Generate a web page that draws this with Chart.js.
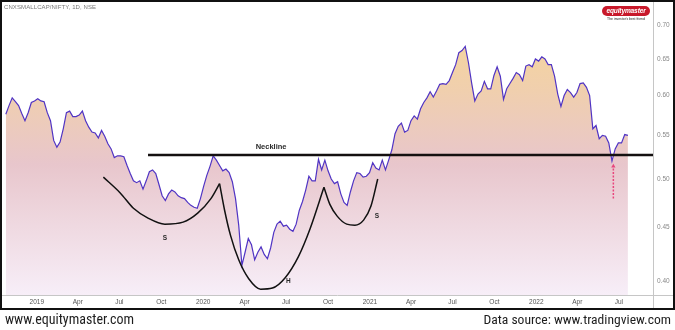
<!DOCTYPE html>
<html>
<head>
<meta charset="utf-8">
<script src="https://cdn.jsdelivr.net/npm/chart.js@4.4.0/dist/chart.umd.min.js"></script>
<style>
  html, body { margin: 0; padding: 0; background: #fff; }
  body { width: 675px; height: 330px; position: relative; overflow: hidden; font-family: "Liberation Sans", Arial, sans-serif; }
  #wrap { position: absolute; left: 0; top: 0; width: 675px; height: 310px; }
  #frame { position: absolute; left: 0; top: 0; width: 675px; height: 310px; box-sizing: border-box; border: 2px solid #111; pointer-events: none; }
  #title { position: absolute; left: 4px; top: 4px; font-size: 6px; color: #777; letter-spacing: 0.1px; }
  #logo { position: absolute; left: 602px; top: 6px; width: 48px; height: 10px; border-radius: 5px; background: #c8192b; color: #fff;
          font: italic bold 6.6px "Liberation Sans", Arial, sans-serif; letter-spacing: -0.15px; line-height: 10px; text-align: center; }
  #tag { position: absolute; left: 602px; top: 16.5px; width: 48px; text-align: center; font-size: 3.4px; color: #222; }
  .foot { position: absolute; top: 311px; font-family: "Liberation Sans Narrow", "Roboto Condensed", "Liberation Sans", sans-serif; font-size: 14px; color: #1d1d1d; }
  #footL { left: 5px; }
  #footR { right: 4px; font-size: 13.6px; }
</style>
</head>
<body>
<div id="wrap"><canvas id="chart" width="675" height="310"></canvas></div>
<div id="title">CNXSMALLCAP/NIFTY, 1D, NSE</div>
<div id="logo">equitymaster</div>
<div id="tag">The investor's best friend</div>
<div id="frame"></div>
<div class="foot" id="footL">www.equitymaster.com</div>
<div class="foot" id="footR">Data source: www.tradingview.com</div>

<script>
// Weekly closes of the ratio, first week starting 2018-10-25
const firstWeek = '2018-10-25';
const ratio = [
    0.576, 0.587, 0.597, 0.592, 0.587, 0.577, 0.568, 0.578, 0.591, 0.593,
    0.596, 0.593, 0.592, 0.578, 0.568, 0.544, 0.536, 0.542, 0.558, 0.578,
    0.580, 0.573, 0.573, 0.575, 0.580, 0.568, 0.560, 0.554, 0.553, 0.547,
    0.556, 0.549, 0.540, 0.534, 0.524, 0.526, 0.526, 0.525, 0.515, 0.506,
    0.498, 0.496, 0.498, 0.489, 0.498, 0.508, 0.510, 0.506, 0.494, 0.482,
    0.477, 0.484, 0.488, 0.486, 0.482, 0.480, 0.479, 0.475, 0.472, 0.470,
    0.469, 0.479, 0.492, 0.504, 0.514, 0.526, 0.521, 0.515, 0.509, 0.511,
    0.507, 0.497, 0.479, 0.452, 0.414, 0.426, 0.439, 0.433, 0.419, 0.426,
    0.431, 0.424, 0.420, 0.430, 0.445, 0.453, 0.456, 0.451, 0.452, 0.448,
    0.446, 0.453, 0.467, 0.476, 0.488, 0.503, 0.498, 0.498, 0.522, 0.510,
    0.521, 0.509, 0.500, 0.495, 0.497, 0.484, 0.475, 0.472, 0.486, 0.498,
    0.507, 0.506, 0.502, 0.503, 0.507, 0.518, 0.512, 0.510, 0.521, 0.510,
    0.521, 0.533, 0.552, 0.561, 0.565, 0.554, 0.556, 0.568, 0.574, 0.570,
    0.583, 0.591, 0.597, 0.605, 0.598, 0.606, 0.615, 0.616, 0.615, 0.620,
    0.631, 0.642, 0.659, 0.662, 0.668, 0.645, 0.617, 0.593, 0.602, 0.606,
    0.619, 0.609, 0.609, 0.627, 0.639, 0.626, 0.595, 0.609, 0.616, 0.623,
    0.631, 0.628, 0.620, 0.640, 0.642, 0.639, 0.650, 0.647, 0.653, 0.650,
    0.642, 0.642, 0.626, 0.602, 0.586, 0.600, 0.608, 0.604, 0.598, 0.604,
    0.616, 0.617, 0.611, 0.600, 0.558, 0.562, 0.546, 0.550, 0.549, 0.541,
    0.520, 0.534, 0.541, 0.541, 0.551, 0.550
];

// Axis ticks
const xTickDates = ['2019-01-01', '2019-04-01', '2019-07-01', '2019-10-01',
    '2020-01-01', '2020-04-01', '2020-07-01', '2020-10-01',
    '2021-01-01', '2021-04-01', '2021-07-01', '2021-10-01',
    '2022-01-01', '2022-04-01', '2022-07-01'];
const xTickLabels = ['2019', 'Apr', 'Jul', 'Oct', '2020', 'Apr', 'Jul', 'Oct',
    '2021', 'Apr', 'Jul', 'Oct', '2022', 'Apr', 'Jul'];
const yTicks = [0.40, 0.45, 0.50, 0.55, 0.60, 0.65, 0.70];

// Head & shoulders drawing: [day since 2019-01-01, value]
const leftShoulder = [[146, 0.502], [183, 0.485], [212, 0.469], [244, 0.459], [281, 0.453], [321, 0.455], [353, 0.464], [382, 0.479], [401, 0.495]];
const headArc = [[401, 0.495], [412, 0.467], [425, 0.442], [443, 0.419], [465, 0.402], [491, 0.393], [517, 0.394], [545, 0.403], [574, 0.422], [600, 0.449], [630, 0.491]];
const rightShoulder = [[630, 0.491], [643, 0.473], [659, 0.461], [680, 0.453], [698, 0.452], [717, 0.457], [733, 0.471], [748, 0.500]];
const neckline = [[244, 0.527], [1352, 0.527]];
const retestArrow = [[1265, 0.479], [1265, 0.514]];
const notes = [
    { text: 'Neckline', day: 514, value: 0.536, bold: true, size: 7.5 },
    { text: 'S', day: 281, value: 0.439, bold: true, size: 6.5 },
    { text: 'H', day: 552, value: 0.400, bold: true, size: 6.5 },
    { text: 'S', day: 746, value: 0.461, bold: true, size: 6.5 }
];

const DAY = 86400000;
const base = Date.parse('2019-01-01');
const dayOf = s => (Date.parse(s) - base) / DAY;
const startDay = dayOf(firstWeek);
const series = ratio.map((v, i) => ({ x: startDay + 7 * i, y: v }));
const toPts = arr => arr.map(p => ({ x: p[0], y: p[1] }));
const xTicks = xTickDates.map(dayOf);

const FONT = '"Liberation Sans", Arial, sans-serif';

// Area fill gradient
function areaFill(context) {
    const area = context.chart.chartArea;
    if (!area) return '#efd3c0';
    const g = context.chart.ctx.createLinearGradient(0, area.top, 0, area.bottom);
    g.addColorStop(0, '#f8d894');
    g.addColorStop(0.3, '#f0cfae');
    g.addColorStop(0.55, '#e8c6cc');
    g.addColorStop(1, '#f7eef8');
    return g;
}

// Axis lines and text labels
const overlay = {
    id: 'overlay',
    afterDatasetsDraw(chart) {
        const { ctx, chartArea, scales: { x, y } } = chart;
        ctx.save();
        ctx.strokeStyle = '#c6c6c6';
        ctx.lineWidth = 1;
        ctx.beginPath();
        ctx.moveTo(Math.round(chartArea.right) + 0.5, 0);
        ctx.lineTo(Math.round(chartArea.right) + 0.5, chart.height);
        ctx.moveTo(0, Math.round(chartArea.bottom) + 0.5);
        ctx.lineTo(chart.width, Math.round(chartArea.bottom) + 0.5);
        ctx.stroke();
        ctx.fillStyle = '#2a2a2a';
        ctx.textAlign = 'center';
        ctx.textBaseline = 'middle';
        notes.forEach(n => {
            ctx.font = (n.bold ? 'bold ' : '') + n.size + 'px ' + FONT;
            ctx.fillText(n.text, x.getPixelForValue(n.day), y.getPixelForValue(n.value));
        });
        ctx.restore();
    }
};

const arcStyle = {
    type: 'line', borderColor: '#111', borderWidth: 1.5, pointRadius: 0,
    cubicInterpolationMode: 'monotone', fill: false, order: 1
};

new Chart(document.getElementById('chart'), {
    type: 'line',
    data: {
        datasets: [{
            data: series,
            borderColor: '#5034c4',
            borderWidth: 1.2,
            backgroundColor: areaFill,
            fill: 'start',
            pointRadius: 0,
            tension: 0,
            order: 5
        }, {
            data: toPts(neckline),
            borderColor: '#141010',
            borderWidth: 2.5,
            pointRadius: 0,
            fill: false,
            order: 4
        },
        Object.assign({ data: toPts(leftShoulder) }, arcStyle),
        Object.assign({ data: toPts(headArc) }, arcStyle),
        Object.assign({ data: toPts(rightShoulder) }, arcStyle),
        {
            data: toPts(retestArrow),
            borderColor: '#e8457c',
            backgroundColor: '#e8457c',
            borderWidth: 1.5,
            borderDash: [2, 1.5],
            pointStyle: 'triangle',
            pointRadius: [0, 2.5],
            pointBorderWidth: 0,
            fill: false,
            order: 0
        }]
    },
    options: {
        responsive: false,
        animation: false,
        devicePixelRatio: 1,
        layout: { padding: 0 },
        plugins: { legend: { display: false }, tooltip: { enabled: false } },
        scales: {
            x: {
                type: 'linear',
                min: -72,
                max: 1352,
                grid: { display: false, drawTicks: false },
                border: { display: false },
                afterBuildTicks: scale => { scale.ticks = xTicks.map(v => ({ value: v })); },
                afterFit: scale => { scale.height = 15; scale.paddingLeft = 0; scale.paddingRight = 0; },
                ticks: {
                    autoSkip: false,
                    maxRotation: 0,
                    padding: 3,
                    color: '#555',
                    font: { family: FONT, size: 6.5 },
                    callback: v => xTickLabels[xTicks.indexOf(v)]
                }
            },
            y: {
                type: 'logarithmic',
                position: 'right',
                min: 0.388,
                max: 0.733,
                grid: { display: false, drawTicks: false },
                border: { display: false },
                afterBuildTicks: scale => { scale.ticks = yTicks.map(v => ({ value: v })); },
                afterFit: scale => { scale.width = 22; scale.paddingTop = 0; scale.paddingBottom = 0; },
                ticks: {
                    padding: 4,
                    color: '#888',
                    font: { family: FONT, size: 6.5 },
                    callback: v => Number(v).toFixed(2)
                }
            }
        }
    },
    plugins: [overlay]
});
</script>
</body>
</html>
